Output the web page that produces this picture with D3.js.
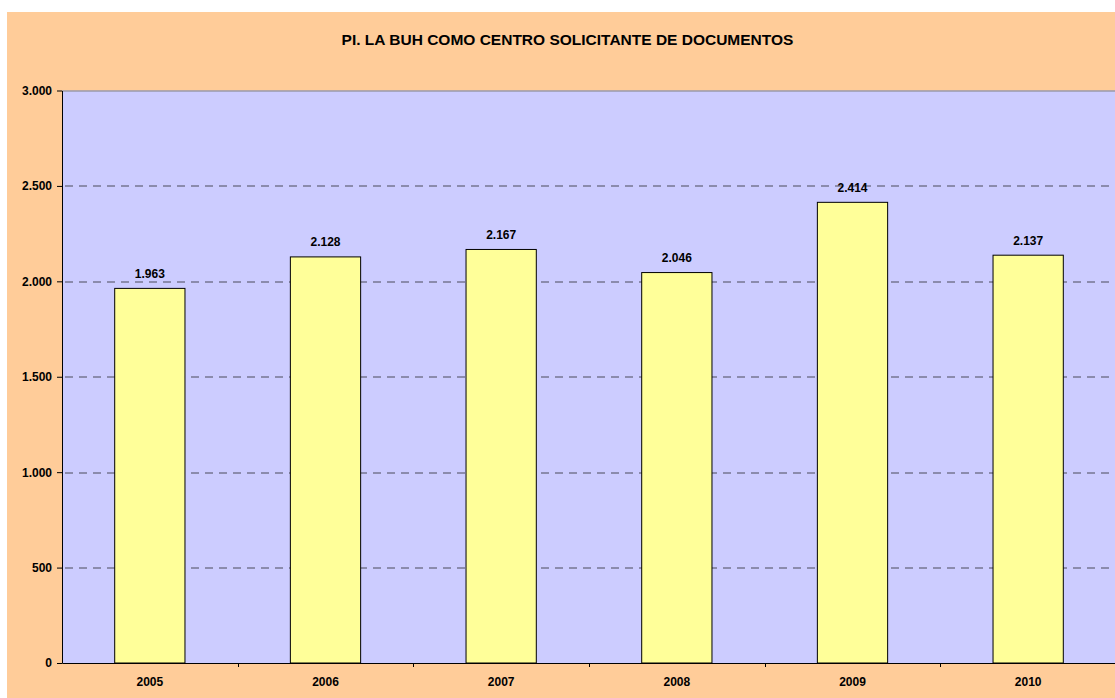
<!DOCTYPE html>
<meta charset="utf-8">
<title>PI. LA BUH COMO CENTRO SOLICITANTE DE DOCUMENTOS</title>
<style>
body { margin: 0; background: #fff; }
text { font-family: Arial, "Liberation Sans", sans-serif; font-weight: bold; fill: #000; }
.axis path, .axis line { stroke: #000; }
.grid line { stroke: #4a4a5a; stroke-dasharray: 8,6; stroke-dashoffset: -3; }
</style>
<body>
<svg width="1115" height="698"></svg>
<script src="https://d3js.org/d3.v7.min.js"></script>
<script>

var years = ["2005", "2006", "2007", "2008", "2009", "2010"];
var values = [1963, 2128, 2167, 2046, 2414, 2137];
var yTicks = [0, 500, 1000, 1500, 2000, 2500, 3000];
var title = "PI. LA BUH COMO CENTRO SOLICITANTE DE DOCUMENTOS";

var svg = d3.select("svg"),
    margin = {top: 90.5, right: -1, bottom: 35, left: 62},
    width = +svg.attr("width") - margin.left - margin.right,
    height = +svg.attr("height") - margin.top - margin.bottom;

var fmt = function(v) { return d3.format(",")(v).replace(/,/g, "."); };

// chart background
svg.append("rect")
    .attr("x", 7).attr("y", 12)
    .attr("width", 1115 - 7).attr("height", 698 - 12)
    .attr("fill", "#ffcc99");

svg.append("text")
    .attr("x", 567.5).attr("y", 45)
    .attr("text-anchor", "middle")
    .style("font-size", "15.5px")
    .text(title);

var x = d3.scaleBand().domain(years).range([0, width]).paddingInner(0.6).paddingOuter(0.3),
    xb = d3.scaleBand().domain(years).range([0, width]),
    y = d3.scaleLinear().domain([0, 3000]).range([height, 0]);

var g = svg.append("g")
    .attr("transform", "translate(" + margin.left + "," + margin.top + ")");

g.append("rect")
    .attr("width", width).attr("height", height)
    .attr("fill", "#ccccff");

g.append("g")
    .attr("class", "grid")
  .selectAll("line")
  .data(yTicks.filter(function(d) { return d > 0 && d < 3000; }))
  .enter().append("line")
    .attr("x1", 0).attr("x2", width)
    .attr("y1", function(d) { return Math.round(y(d)) + 0.5; })
    .attr("y2", function(d) { return Math.round(y(d)) + 0.5; });

// top border of plot area
g.append("line")
    .attr("x1", 0).attr("x2", width)
    .attr("y1", 0.5).attr("y2", 0.5)
    .attr("stroke", "#808080");

g.selectAll(".bar")
  .data(values)
  .enter().append("rect")
    .attr("class", "bar")
    .attr("x", function(d, i) { return x(years[i]); })
    .attr("y", function(d) { return y(d); })
    .attr("width", x.bandwidth())
    .attr("height", function(d) { return height - y(d); })
    .attr("fill", "#ffff99")
    .attr("stroke", "#000")
    .attr("stroke-width", 1);

g.selectAll(".val")
  .data(values)
  .enter().append("text")
    .attr("class", "val")
    .attr("x", function(d, i) { return x(years[i]) + x.bandwidth() / 2; })
    .attr("y", function(d) { return y(d) - 10.5; })
    .attr("text-anchor", "middle")
    .style("font-size", "12px")
    .text(fmt);

var yAxis = g.append("g")
    .attr("class", "axis")
    .call(d3.axisLeft(y).tickValues(yTicks).tickSize(5).tickSizeOuter(0).tickFormat(fmt));
yAxis.selectAll("text").style("font-size", "12px").attr("x", -10);

var xAxis = g.append("g")
    .attr("class", "axis")
    .attr("transform", "translate(0," + height + ")")
    .call(d3.axisBottom(xb).tickSize(0).tickSizeOuter(0));
xAxis.selectAll("text").style("font-size", "12px").attr("y", 14).attr("dy", "0.71em");

// category separators on x axis
xAxis.selectAll(".sep")
  .data(years.slice(1))
  .enter().append("line")
    .attr("x1", function(d) { return Math.round(xb(d)) + 0.5; })
    .attr("x2", function(d) { return Math.round(xb(d)) + 0.5; })
    .attr("y1", 0).attr("y2", 4)
    .attr("stroke", "#000");

</script>
</body>
